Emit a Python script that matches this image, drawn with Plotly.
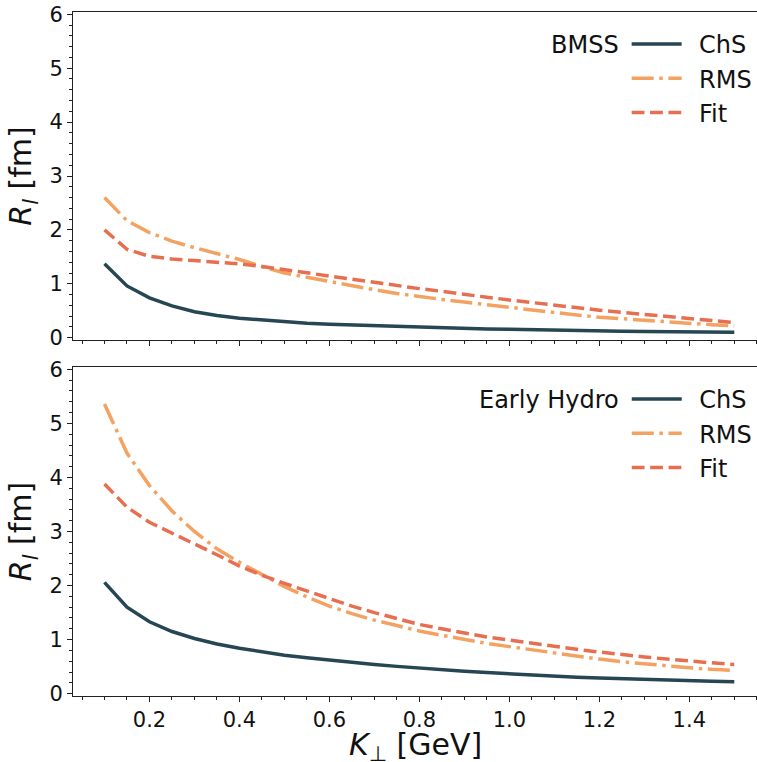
import plotly.graph_objects as go

# ---------------- data ----------------
k_perp = [0.10, 0.15, 0.20, 0.25, 0.30, 0.35, 0.40, 0.45, 0.50, 0.55,
          0.60, 0.65, 0.70, 0.75, 0.80, 0.85, 0.90, 0.95, 1.00, 1.05,
          1.10, 1.15, 1.20, 1.25, 1.30, 1.35, 1.40, 1.45, 1.50]

bmss_chs = [1.37, 0.96, 0.74, 0.59, 0.48, 0.41, 0.36, 0.325, 0.295, 0.27,
            0.25, 0.235, 0.22, 0.205, 0.195, 0.18, 0.17, 0.16, 0.155, 0.145,
            0.14, 0.13, 0.125, 0.12, 0.115, 0.11, 0.105, 0.10, 0.10]
bmss_rms = [2.60, 2.17, 1.95, 1.79, 1.67, 1.56, 1.45, 1.32, 1.20, 1.12,
            1.04, 0.96, 0.89, 0.82, 0.76, 0.71, 0.66, 0.61, 0.57, 0.52,
            0.47, 0.42, 0.38, 0.35, 0.32, 0.29, 0.265, 0.24, 0.22]
bmss_fit = [2.00, 1.64, 1.51, 1.46, 1.43, 1.40, 1.37, 1.32, 1.26, 1.20,
            1.14, 1.08, 1.02, 0.96, 0.91, 0.86, 0.80, 0.75, 0.70, 0.65,
            0.60, 0.55, 0.51, 0.47, 0.43, 0.39, 0.35, 0.315, 0.28]

hydro_chs = [2.06, 1.60, 1.33, 1.15, 1.02, 0.92, 0.84, 0.77, 0.71, 0.665,
             0.62, 0.58, 0.54, 0.505, 0.47, 0.44, 0.415, 0.39, 0.365, 0.345,
             0.325, 0.305, 0.29, 0.275, 0.26, 0.25, 0.24, 0.23, 0.22]
hydro_rms = [5.36, 4.45, 3.85, 3.38, 3.00, 2.68, 2.43, 2.20, 1.98, 1.79,
             1.62, 1.48, 1.36, 1.26, 1.16, 1.08, 1.00, 0.93, 0.87, 0.81,
             0.75, 0.69, 0.64, 0.59, 0.55, 0.51, 0.48, 0.45, 0.43]
hydro_fit = [3.88, 3.45, 3.17, 2.97, 2.78, 2.57, 2.36, 2.19, 2.04, 1.90,
             1.75, 1.62, 1.50, 1.39, 1.28, 1.20, 1.12, 1.05, 0.99, 0.93,
             0.87, 0.82, 0.77, 0.72, 0.68, 0.64, 0.60, 0.57, 0.54]

series_names = ["ChS", "RMS", "Fit"]
panel_titles = ["BMSS", "Early Hydro"]
x_ticks = [0.2, 0.4, 0.6, 0.8, 1.0, 1.2, 1.4]
y_ticks = [0, 1, 2, 3, 4, 5, 6]
x_title = "<i>K</i><sub>⊥</sub> [GeV]"
y_title = "<i>R</i><sub><i>l</i></sub> [fm]"

# ---------------- style ----------------
FONT = "DejaVu Sans"
colors = ["#264653", "#f4a261", "#e76f51"]
dashes = ["solid", "22px,5.6px,3.5px,5.6px", "12.8px,5.6px"]
LW = 3.5
LEG_PAD = "\u00a0\u2009"

fig = go.Figure()

panels = [
    (panel_titles[0], [bmss_chs, bmss_rms, bmss_fit], "x2", "y2", "legend"),
    (panel_titles[1], [hydro_chs, hydro_rms, hydro_fit], "x", "y", "legend2"),
]
for title, ys, xa, ya, leg in panels:
    for name, yv, c, d in zip(series_names, ys, colors, dashes):
        fig.add_trace(go.Scatter(
            x=k_perp, y=yv, mode="lines", name=LEG_PAD + name,
            line=dict(color=c, width=LW, dash=d),
            xaxis=xa, yaxis=ya, legend=leg, showlegend=True,
        ))

W, H = 757, 762
mt, mb, ml, mr = 12, 66, 73, 0
ph = H - mt - mb
top_dom = [(H - mb - 340) / ph, 1.0]
bot_dom = [0.0, (H - mb - 367) / ph]

axis_common = dict(
    showline=True, linecolor="#222", linewidth=1.1,
    ticks="outside", ticklen=5, tickwidth=1.1, tickcolor="#222",
    showgrid=False, zeroline=False, automargin=False,
    tickfont=dict(family=FONT, size=21, color="#111"),
)
xrange = [0.03, 1.5505]
yrange = [-0.043, 6.043]

xminor = dict(dtick=0.05, tick0=0, ticks="outside", ticklen=3, tickwidth=1, tickcolor="#222", showgrid=False)
yminor = dict(dtick=0.2, tick0=0, ticks="outside", ticklen=3, tickwidth=1, tickcolor="#222", showgrid=False)

ytitle = dict(text=y_title, font=dict(family=FONT, size=30, color="#111"), standoff=8)

leg_common = dict(
    x=1.0, xanchor="right", yanchor="top",
    bgcolor="rgba(0,0,0,0)", borderwidth=0,
    font=dict(family=FONT, size=24, color="#111"),
    itemwidth=50, traceorder="normal",
)

fig.update_layout(
    width=W, height=H,
    margin=dict(l=ml, r=mr, t=mt, b=mb, pad=0, autoexpand=False),
    paper_bgcolor="white", plot_bgcolor="white",
    font=dict(family=FONT, color="#111"),
    xaxis=dict(domain=[0, 1], anchor="y", range=xrange, tickvals=x_ticks,
               tickformat=".1f", mirror=True, minor=xminor, **axis_common),
    yaxis=dict(domain=bot_dom, anchor="x", range=yrange, tickvals=y_ticks,
               minor=yminor, title=ytitle, **axis_common),
    xaxis2=dict(domain=[0, 1], anchor="y2", range=xrange, tickvals=x_ticks,
                matches="x", showticklabels=False, mirror=True, minor=xminor,
                **axis_common),
    yaxis2=dict(domain=top_dom, anchor="x2", range=yrange, tickvals=y_ticks,
                minor=yminor, title=ytitle, **axis_common),
    legend=dict(y=1.0 - 10 / ph,
                title=dict(text=panel_titles[0], side="left", font=dict(family=FONT, size=24, color="#111")),
                **leg_common),
    legend2=dict(y=bot_dom[1] - 10 / ph,
                 title=dict(text=panel_titles[1], side="left", font=dict(family=FONT, size=24, color="#111")),
                 **leg_common),
    annotations=[dict(
        text=x_title, x=0.5, xref="paper", y=0, yref="paper",
        xanchor="center", yanchor="top", yshift=-29, showarrow=False,
        font=dict(family=FONT, size=30, color="#111"),
    )],
)

fig.write_html("out.html")
